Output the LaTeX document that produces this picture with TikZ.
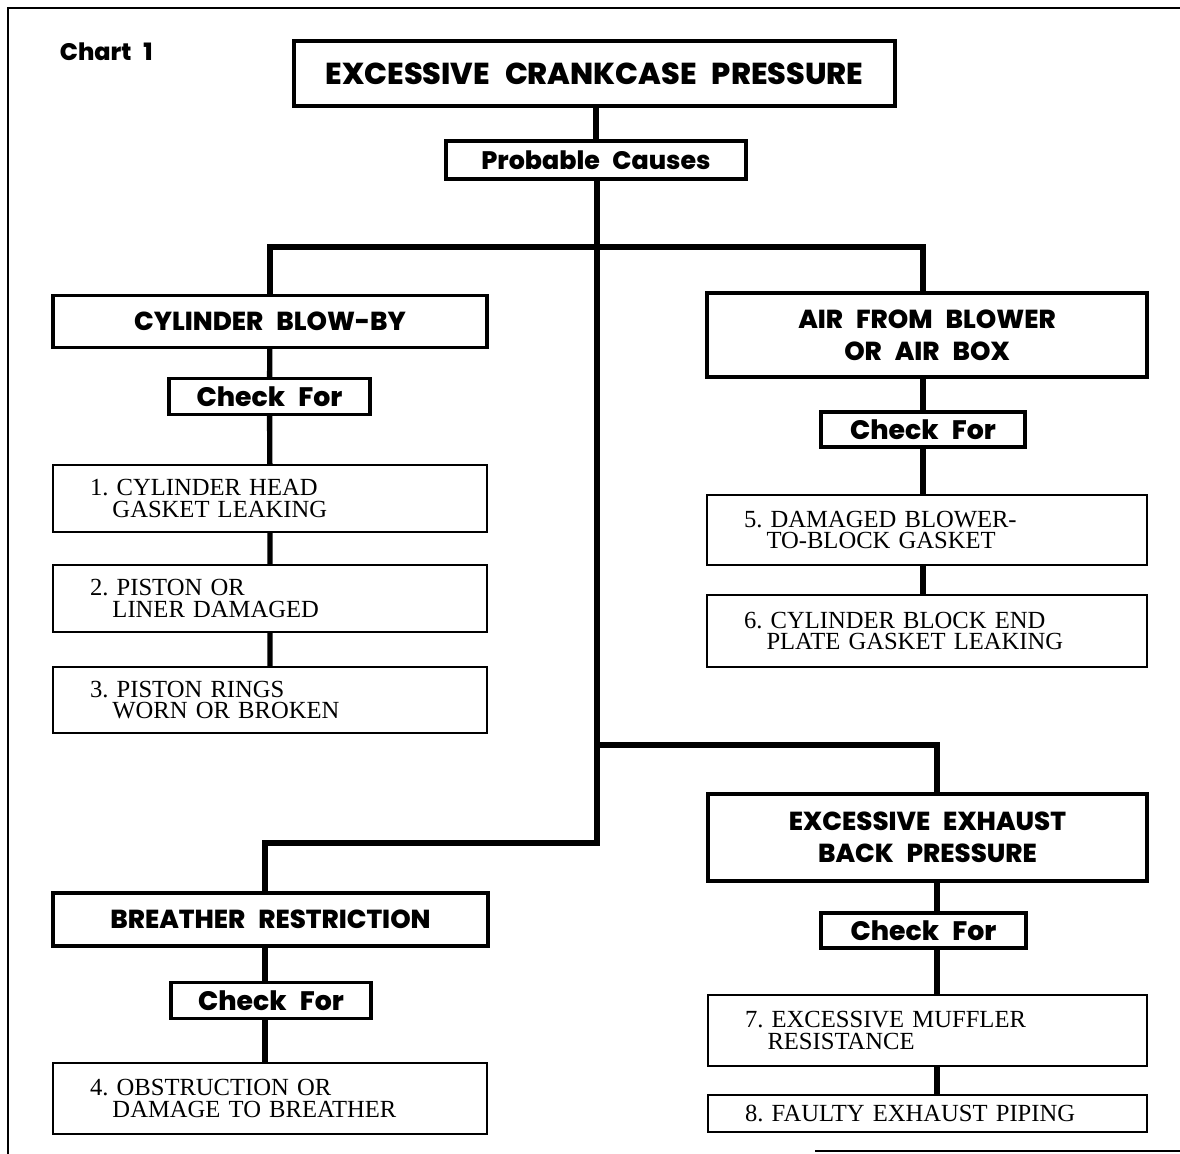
\documentclass[tikz,border=0pt]{standalone}
\usepackage{fontspec}
\setmainfont{Liberation Serif}
\newfontfamily\headfont{Poppins}[WordSpace=2.6,BoldFont={Poppins ExtraBold}]
\newdimen\px \px=0.025cm
\newcommand\ind{\hspace*{16pt}}
\frenchspacing
\begin{document}
\begin{tikzpicture}[x=0.025cm,y=-0.025cm,
  link/.style={line width=3.8pt},
  title/.style={draw,line width=3.4pt,fill=white,inner sep=0pt,minimum width=601*\px,minimum height=65*\px,font=\headfont\bfseries\fontsize{21.5}{24}\selectfont},
  cause/.style={draw,line width=2.2pt,fill=white,inner sep=0pt,minimum width=300*\px,minimum height=38*\px,font=\headfont\bfseries\fontsize{18}{18}\selectfont},
  head/.style={draw,line width=2.4pt,fill=white,inner sep=0pt,align=center,minimum width=#1*\px,font=\headfont\bfseries\fontsize{18.5}{23}\selectfont},
  check/.style={draw,line width=2.2pt,fill=white,inner sep=0pt,minimum width=#1*\px,minimum height=36*\px,font=\headfont\bfseries\fontsize{19}{18}\selectfont},
  item/.style={draw,line width=1.5pt,fill=white,align=left,inner ysep=0pt,inner xsep=37*\px,text width=(#1-74)*\px,font=\fontsize{17.5}{15}\selectfont},
]
\useasboundingbox (0,0) rectangle (1180,1154);
\draw[line width=1.6pt] (8,1154) -- (8,8) -- (1180,8);
\draw[line width=1pt] (815,1151) -- (1180,1151);
\node[anchor=base west,font=\headfont\bfseries\fontsize{17}{18}\selectfont] (chart) at (55,61) {Chart 1};

\node[title] (top) at (594.5,73.5) {EXCESSIVE CRANKCASE PRESSURE};
\node[cause] (cause) at (596,160) {Probable Causes};

% left column
\node[head=434,minimum height=52*\px] (cby) at (270,321.5) {CYLINDER BLOW-BY};
\node[check=201] (chk1) at (269.5,396.5) {Check For};
\node[item=434,minimum height=67*\px] (it1) at (270,498.5) {1. CYLINDER HEAD\\\ind GASKET LEAKING};
\node[item=434,minimum height=67*\px] (it2) at (270,598.5) {2. PISTON OR\\\ind LINER DAMAGED};
\node[item=434,minimum height=66*\px] (it3) at (270,700) {3. PISTON RINGS\\\ind WORN OR BROKEN};

\node[head=435,minimum height=53*\px] (brr) at (270.5,919.5) {BREATHER RESTRICTION};
\node[check=200] (chk3) at (271,1000.5) {Check For};
\node[item=434,minimum height=71*\px] (it4) at (270,1098.5) {4. OBSTRUCTION OR\\\ind DAMAGE TO BREATHER};

% right column
\node[head=440,minimum height=84*\px] (abl) at (927,335) {AIR FROM BLOWER\\OR AIR BOX};
\node[check=204,minimum height=35*\px] (chk2) at (923,429.5) {Check For};
\node[item=440,minimum height=70*\px] (it5) at (927,530) {5. DAMAGED BLOWER-\\\ind TO-BLOCK GASKET};
\node[item=440,minimum height=72*\px] (it6) at (927,631) {6. CYLINDER BLOCK END\\\ind PLATE GASKET LEAKING};

\node[head=439,minimum height=87*\px] (exh) at (927.5,837.5) {EXCESSIVE EXHAUST\\BACK PRESSURE};
\node[check=205,minimum height=35*\px] (chk4) at (923.5,930.5) {Check For};
\node[item=439,minimum height=71*\px] (it7) at (927.5,1030.5) {7. EXCESSIVE MUFFLER\\\ind RESISTANCE};
\node[item=439,minimum height=37*\px] (it8) at (927.5,1113.5) {8. FAULTY EXHAUST PIPING};

% branch points
\coordinate (fork) at (597,247);
\coordinate (mid) at (597,745);
\coordinate (bend) at (597,843);
\coordinate (bl) at (265,843);
\coordinate (ex) at (937,745);

\draw[link] (top.south -| cause) -- (cause.north);
\draw[link] (cause.south -| bend) -- (bend) -- (bl) -- (bl |- brr.north);
\draw[link] (cby.north) |- (fork) -| (abl.north -| chk2);
\draw[link] (mid) -- (ex) -- (ex |- exh.north);

\draw[link] (cby) -- (chk1) -- (it1) -- (it2) -- (it3);
\draw[link] (abl.south -| chk2) -- (chk2.north) (chk2.south) -- (it5.north -| chk2)
  (it5.south -| chk2) -- (it6.north -| chk2);
\draw[link] (brr.south -| bl) -- (chk3.north -| bl) (chk3.south -| bl) -- (it4.north -| bl);
\draw[link] (exh.south -| ex) -- (chk4.north -| ex) (chk4.south -| ex) -- (it7.north -| ex)
  (it7.south -| ex) -- (it8.north -| ex);
\end{tikzpicture}
\end{document}
